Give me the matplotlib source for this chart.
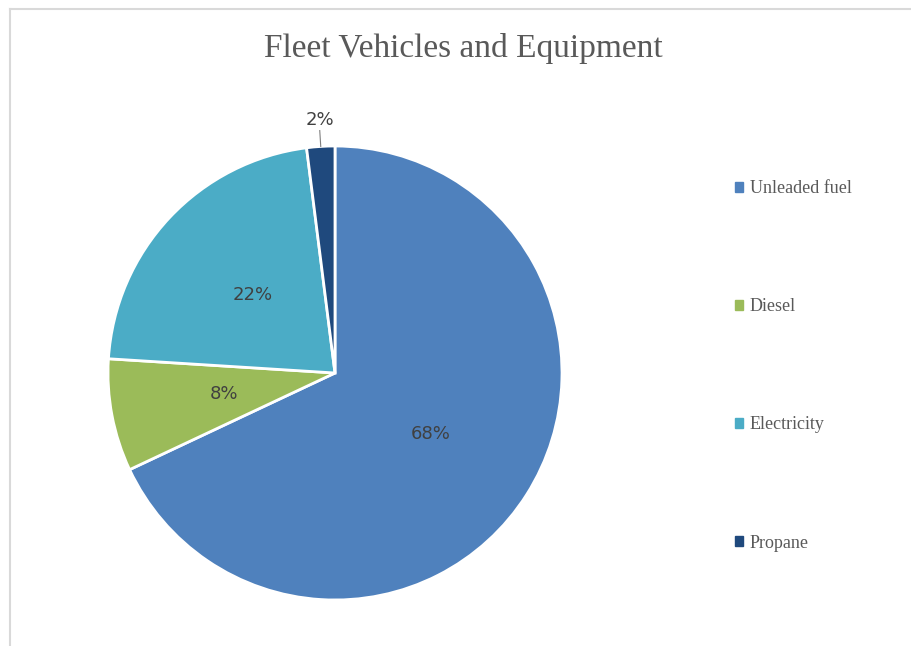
import numpy as np
import matplotlib.pyplot as plt
from matplotlib.lines import Line2D

# --- data ---
labels = ["Unleaded fuel", "Diesel", "Electricity", "Propane"]
shares = [68, 8, 22, 2]
colors = ["#4F81BD", "#9BBB59", "#4BACC6", "#1F497D"]

fig = plt.figure(figsize=(9.12, 6.46), dpi=100)

# chart-area frame (only top/left edges visible in the screenshot)
fig.add_artist(Line2D([10/912, 10/912], [0, 1 - 9/646], transform=fig.transFigure,
                      color="#D9D9D9", lw=1.5))
fig.add_artist(Line2D([10/912, 1], [1 - 9/646, 1 - 9/646], transform=fig.transFigure,
                      color="#D9D9D9", lw=1.5))

fig.text(463/912, 1 - 48/646, "Fleet Vehicles and Equipment", ha="center", va="center",
         fontsize=24, color="#595959", family="Liberation Serif")

ax = fig.add_axes([108/912, 46/646, 454/912, 454/646])
wedges, texts, autotexts = ax.pie(
    shares, colors=colors, startangle=90, counterclock=False,
    autopct="%d%%", pctdistance=0.5,
    wedgeprops=dict(edgecolor="white", linewidth=2),
    textprops=dict(fontsize=13, color="#404040"))
ax.set_xlim(-1, 1)
ax.set_ylim(-1, 1)
ax.set_aspect("equal")

# small slice label goes outside with a leader line
for w, t, v in zip(wedges, autotexts, shares):
    if v < 5:
        ang = np.deg2rad((w.theta1 + w.theta2) / 2)
        x, y = np.cos(ang), np.sin(ang)
        t.set_position((1.075 * x, 1.075 * y))
        t.set_va("bottom")
        ax.plot([1.0 * x, 1.07 * x], [1.0 * y, 1.07 * y], color="#7F7F7F", lw=0.8,
                clip_on=False)

handles = [plt.Rectangle((0, 0), 1, 1, color=c) for c in colors]
fig.legend(handles, labels, loc="upper left", bbox_to_anchor=(728/912, 1 - 173/646),
           frameon=False, prop=dict(family="Liberation Serif", size=13),
           labelcolor="#595959", handlelength=0.45, handleheight=0.45,
           handletextpad=0.35, labelspacing=5.6, borderaxespad=0)

fig.savefig("out.png", dpi=100)
